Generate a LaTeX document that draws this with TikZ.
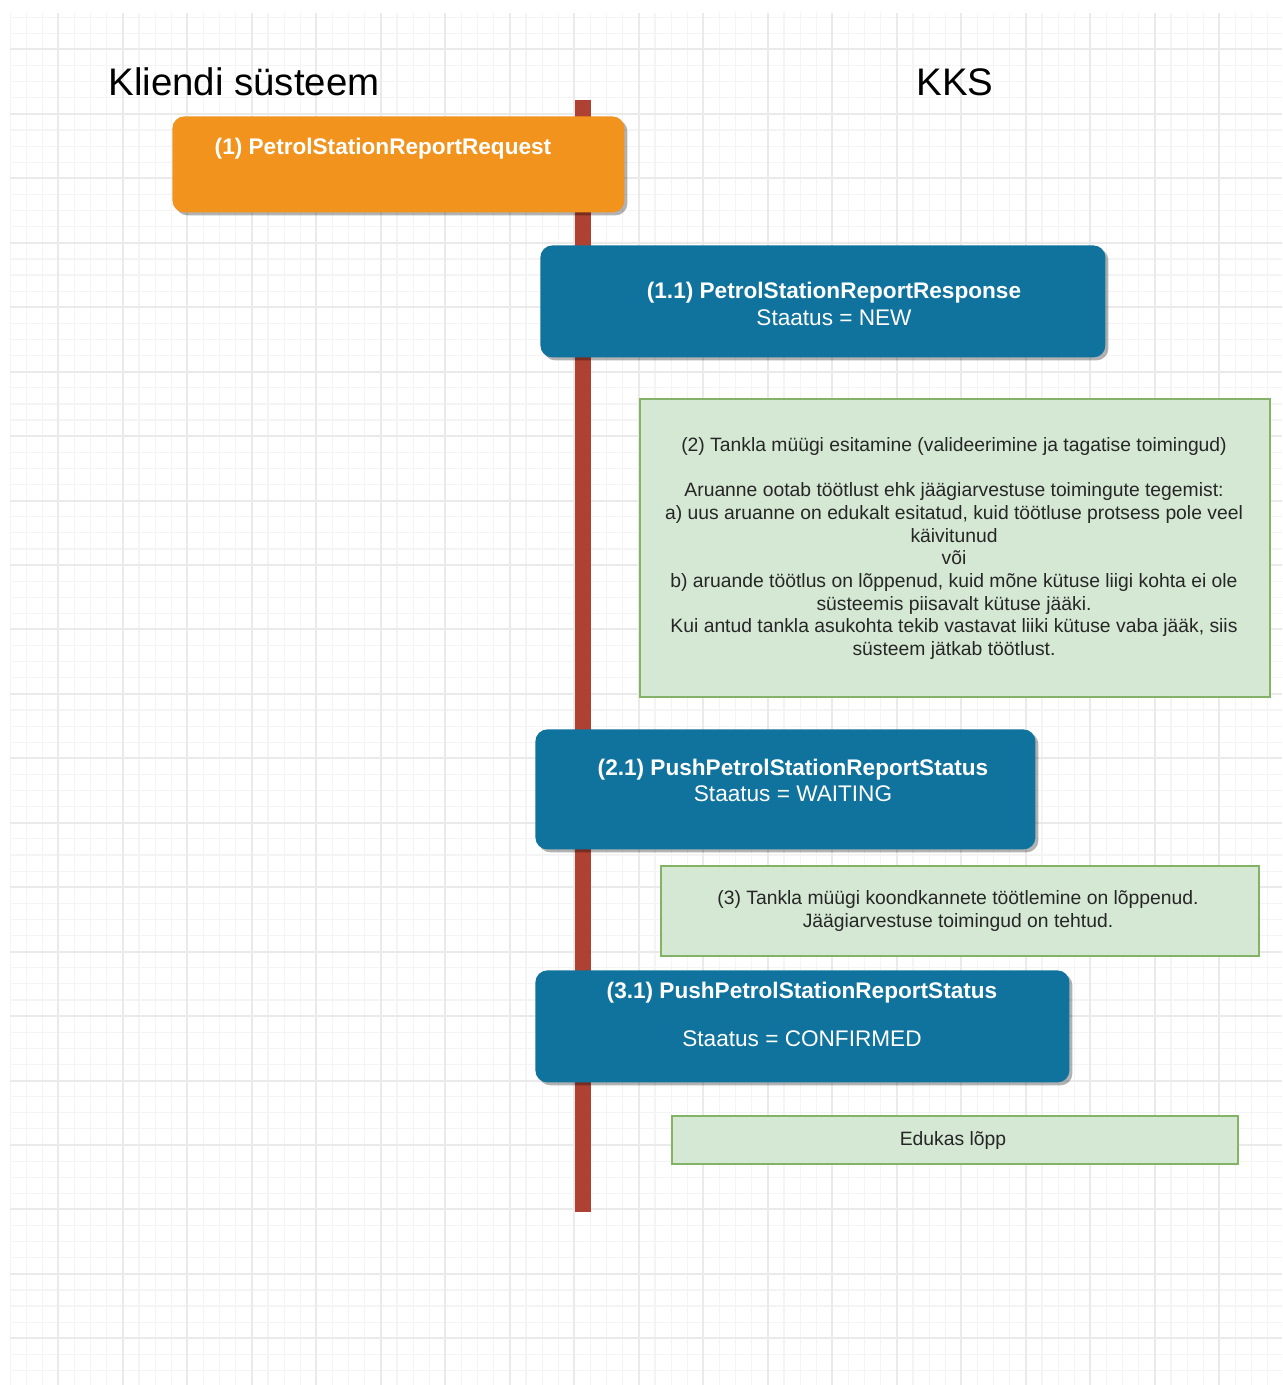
\documentclass[tikz,border=0pt]{standalone}
\usepackage{fontspec}
\setmainfont{Liberation Sans}
\usetikzlibrary{shadows}
\definecolor{gridmajor}{HTML}{EAEAEA}
\definecolor{gridminor}{HTML}{F4F4F4}
\definecolor{lifered}{HTML}{AE4132}
\definecolor{reqorange}{HTML}{F2931E}
\definecolor{msgblue}{HTML}{10739E}
\definecolor{notefill}{HTML}{D5E8D4}
\definecolor{notestroke}{HTML}{82B366}
\begin{document}
\begin{tikzpicture}[x=0.5pt,y=-0.5pt,
  gridmin/.style={draw=gridminor,line width=0.6pt},
  gridmaj/.style={draw=gridmajor,line width=1pt},
  lifeline/.style={draw=lifered,line width=8pt},
  shadowed/.style={drop shadow={shadow xshift=1.5pt,shadow yshift=-1.5pt,opacity=0.3,fill=black}},
  reqbox/.style={rectangle,rounded corners=6pt,fill=reqorange,inner sep=0pt,anchor=north west,shadowed},
  msgbox/.style={rectangle,rounded corners=6pt,fill=msgblue,inner sep=0pt,anchor=north west,shadowed},
  notebox/.style={rectangle,fill=notefill,draw=notestroke,line width=0.8pt,inner sep=0pt,anchor=north west},
  heading/.style={font=\fontsize{19.2}{23}\selectfont,text=black,anchor=base,inner sep=0pt},
  msgtitle/.style={font=\fontsize{11.3}{13.5}\selectfont\bfseries,text=white,anchor=base,inner sep=0pt},
  msgtext/.style={font=\fontsize{11.3}{13.5}\selectfont,text=white,anchor=base,inner sep=0pt},
  notetext/.style={font=\fontsize{9.66}{11.35}\selectfont,text=black!85,align=center,inner sep=0pt}
]
\useasboundingbox (0,0) rectangle (1282,1385);
\fill[white] (0,0) rectangle (1282,1385);
% grid
\begin{scope}
\clip (10,13) rectangle (1282,1385);
\foreach \i in {0,...,79}{
  \pgfmathtruncatemacro\m{mod(\i,4)}
  \ifnum\m=3 \else \draw[gridmin] (10+16.125*\i,13) -- (10+16.125*\i,1385); \fi
}
\foreach \j in {-3,...,83}{
  \pgfmathtruncatemacro\m{mod(\j+40,4)}
  \ifnum\m=0 \else \draw[gridmin] (10,49.5+16.11*\j) -- (1282,49.5+16.11*\j); \fi
}
\foreach \i in {3,7,...,79}{
  \draw[gridmaj] (10+16.125*\i,13) -- (10+16.125*\i,1385);
}
\foreach \j in {0,4,...,84}{
  \draw[gridmaj] (10,49.5+16.11*\j) -- (1282,49.5+16.11*\j);
}
\end{scope}
% headings
\node[heading] (hclient) at (244,96) {Kliendi süsteem};
\node[heading] (hkks) at (955,96) {KKS};
% lifeline
\coordinate (lifetop) at (583,100);
\coordinate (lifebot) at (583,1212);
\draw[lifeline] (lifetop) -- (lifebot);
% boxes
\node[reqbox,minimum width=226pt,minimum height=48pt] (req) at (172,116) {};
\node[msgbox,minimum width=282.5pt,minimum height=56pt] (resp) at (540,245) {};
\node[notebox,minimum width=315pt,minimum height=149pt] (note2) at (639,398) {};
\node[msgbox,minimum width=250pt,minimum height=60pt] (push21) at (535,729) {};
\node[notebox,minimum width=299pt,minimum height=45pt] (note3) at (660,865) {};
\node[msgbox,minimum width=267pt,minimum height=56pt] (push31) at (535,970) {};
\node[notebox,minimum width=283pt,minimum height=24pt] (end) at (671,1115) {};
% texts
\node[msgtitle] (treq) at (383,155) {(1) PetrolStationReportRequest};
\node[msgtitle] (tresp) at (834,299) {(1.1) PetrolStationReportResponse};
\node[msgtext] (tresps) at (834,326) {Staatus = NEW};
\node[notetext] (tnote2) at (954,548.5) {(2) Tankla müügi esitamine (valideerimine ja tagatise toimingud)\\[11.35pt]
Aruanne ootab töötlust ehk jäägiarvestuse toimingute tegemist:\\
a) uus aruanne on edukalt esitatud, kuid töötluse protsess pole veel\\
käivitunud\\
või\\
b) aruande töötlus on lõppenud, kuid mõne kütuse liigi kohta ei ole\\
süsteemis piisavalt kütuse jääki.\\
Kui antud tankla asukohta tekib vastavat liiki kütuse vaba jääk, siis\\
süsteem jätkab töötlust.};
\node[msgtitle] (tpush21) at (793,775) {(2.1) PushPetrolStationReportStatus};
\node[msgtext] (tpush21s) at (793,801) {Staatus = WAITING};
\node[notetext] (tnote3) at (958,911) {(3) Tankla müügi koondkannete töötlemine on lõppenud.\\
Jäägiarvestuse toimingud on tehtud.};
\node[msgtitle] (tpush31) at (802,998) {(3.1) PushPetrolStationReportStatus};
\node[msgtext] (tpush31s) at (802,1046) {Staatus = CONFIRMED};
\node[notetext] (tend) at (953,1140) {Edukas lõpp};
\end{tikzpicture}
\end{document}
